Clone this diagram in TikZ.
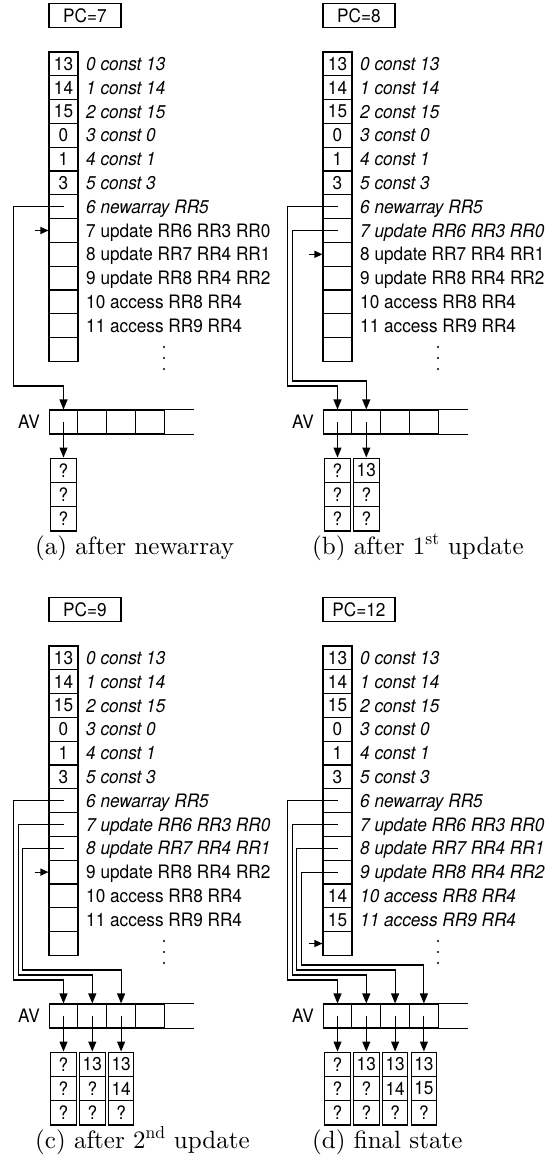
\documentclass[tikz,border=0pt]{standalone}
\usepackage{fontspec}
\newfontfamily\hv[FakeStretch=0.93]{TeX Gyre Heros}
\newfontfamily\capfont{lmroman10-regular.otf}
\usetikzlibrary{arrows.meta}
\tikzset{
  hvfont/.style={font=\hv\fontsize{18.5}{22}\selectfont},
  thinline/.style={line width=1.1pt},
  box/.style={draw, thinline, inner sep=0pt, hvfont},
  regcell/.style={box, minimum width=29pt, minimum height=23.8pt},
  avcell/.style={box, minimum width=28.8pt, minimum height=24pt},
  elem/.style={box, minimum width=25.5pt, minimum height=24.3pt},
  pcbox/.style={box, minimum width=72pt, minimum height=24pt},
  instr/.style={inner sep=0pt, anchor=base west, hvfont},
  hvlabel/.style={inner sep=0pt, hvfont},
  ptr/.style={thinline, -{Triangle[length=10pt,width=8pt]}},
  pcarrow/.style={thinline, -{Triangle[length=8pt,width=7pt]}},
  captionlbl/.style={inner sep=0pt, anchor=base west, font=\capfont\fontsize{25}{30}\selectfont},
}
\newcommand\Panel[6]{%
\begin{scope}[shift={(#2,#3)}]
  \node[pcbox] (#1-pc) at (85,15.5) {PC=#4};
  \foreach \v [count=\i from 0] in {#5}
    \node[regcell] (#1-r\i) at (63.5,{52+(\i+0.5)*23.8}) {\v};
  \foreach \txt [count=\i from 0] in {0 const 13,1 const 14,2 const 15,3 const 0,4 const 1,5 const 3,6 newarray RR5,7 update RR6 RR3 RR0,8 update RR7 RR4 RR1,9 update RR8 RR4 RR2,10 access RR8 RR4,11 access RR9 RR4}{%
    \ifnum\i<#4\relax\def\sh{\itshape}\else\def\sh{}\fi
    \node[instr] (#1-t\i) at (86,{52+(\i+0.5)*23.8+6.5}) {\sh\txt};}
  \foreach \dy in {347,358,369} \fill (164,\dy) circle (1.1pt);
  \coordinate (#1-pcs) at (34.5,{52+(#4+0.5)*23.8});
  \draw[pcarrow] (#1-pcs) -- (#1-r#4.west);
  \node[hvlabel] (#1-avl) at (29,422) {AV};
  \foreach \c in {1,...,4} \node[avcell] (#1-av\c) at ({63.5+(\c-1)*28.8},422) {};
  \draw[thinline] (#1-av4.north east) -- ++(29,0) (#1-av4.south east) -- ++(29,0);
  \foreach \k/\ea/\eb/\ec in {1/?/?/?,2/13/?/?,3/13/14/?,4/13/15/?}{%
    \ifnum\k>#6\relax\else
      \node[elem] (#1-s\k-1) at ({63.5+(\k-1)*28.8},470.2) {\ea};
      \node[elem] (#1-s\k-2) at ({63.5+(\k-1)*28.8},494.5) {\eb};
      \node[elem] (#1-s\k-3) at ({63.5+(\k-1)*28.8},518.8) {\ec};
      \pgfmathtruncatemacro\r{5+\k}
      \coordinate (#1-b\k) at ({13.3+4.8*(\k-1)},{386-5*(\k-1)});
      \draw[ptr] (#1-r\r.center) -| (#1-b\k) -| (#1-av\k.north);
      \draw[ptr] (#1-av\k.center) -- (#1-s\k-1.north);
    \fi}
\end{scope}}
\begin{document}
\begin{tikzpicture}[x=1pt,y=-1pt]
  \useasboundingbox (0,0) rectangle (554,1162);
  \Panel{a}{0}{0}{7}{13,14,15,0,1,3,{},{},{},{},{},{},{}}{1}
  \Panel{b}{274}{0}{8}{13,14,15,0,1,3,{},{},{},{},{},{},{}}{2}
  \Panel{c}{0}{594}{9}{13,14,15,0,1,3,{},{},{},{},{},{},{}}{3}
  \Panel{d}{274}{594}{12}{13,14,15,0,1,3,{},{},{},{},14,15,{}}{4}
  \node[captionlbl] (cap-a) at (35,554) {(a) after newarray};
  \node[captionlbl] (cap-b) at (312,554) {(b) after 1\textsuperscript{st} update};
  \node[captionlbl] (cap-c) at (35,1148) {(c) after 2\textsuperscript{nd} update};
  \node[captionlbl] (cap-d) at (312,1148) {(d) final state};
\end{tikzpicture}
\end{document}
